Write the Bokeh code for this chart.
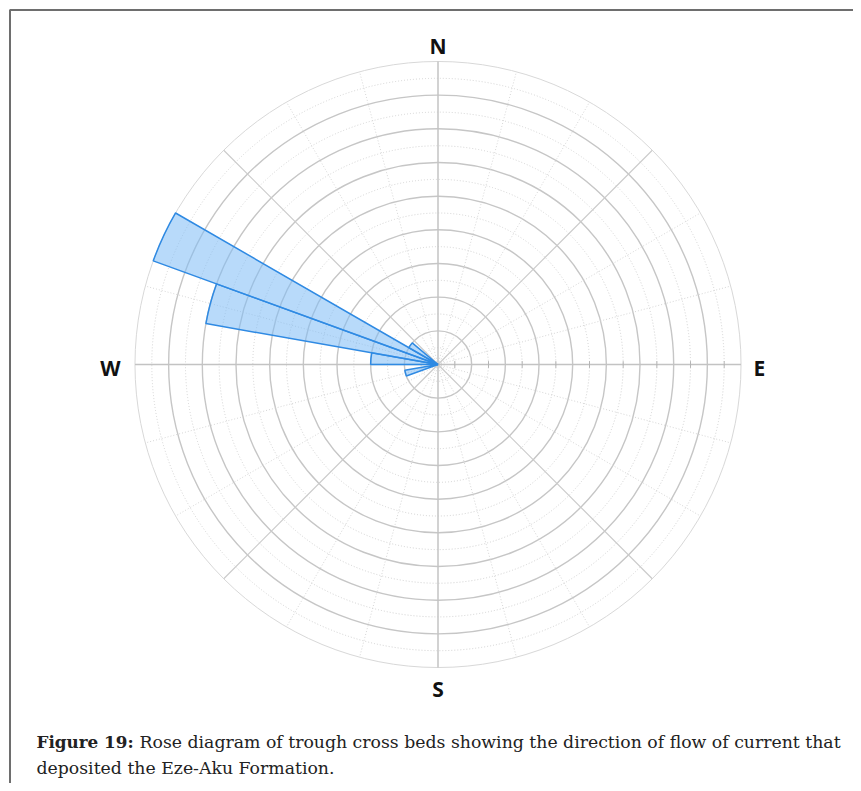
import numpy as np
from bokeh.plotting import figure
from bokeh.models import BoxAnnotation, Label
from bokeh.core.properties import value
from bokeh.embed import file_html
from bokeh.resources import INLINE

# ---- data (azimuth bins, degrees clockwise from North) ----
bin_start = [250, 270, 280, 290, 300]
bin_end = [260, 280, 290, 300, 310]
counts = [1, 2, 7, 9, 1]
ring_max = 9
direction_labels = ["N", "E", "S", "W"]
caption_bold = "Figure 19:"
caption_line1 = "Rose diagram of trough cross beds showing the direction of flow of current that"
caption_line2 = "deposited the Eze-Aku Formation."

# ---- layout ----
W, H = 853, 783
cx, cy = 437.5, 364.0      # canvas pixel of rose centre
s = 33.67                  # pixels per ring unit

p = figure(width=W, height=H, output_backend="svg", toolbar_location=None,
           x_range=(-cx / s, (W - cx) / s), y_range=(-(H - cy) / s, cy / s),
           x_axis_location=None, y_axis_location=None, min_border=0)
p.grid.visible = False
p.outline_line_color = None
p.background_fill_color = "white"
p.border_fill_color = "white"

# ---- grid ----
solid_r = list(range(1, ring_max))
half_r = [k + 0.5 for k in range(ring_max)]
p.circle(x=0, y=0, radius=half_r, fill_color=None, line_color="#d2d2d2",
         line_width=1, line_dash="1 2")
p.circle(x=0, y=0, radius=solid_r, fill_color=None, line_color="#c6c6c6",
         line_width=1.4)
p.circle(x=0, y=0, radius=[ring_max], fill_color=None, line_color="#d8d8d8",
         line_width=1)

az = np.arange(0, 360, 15)
dotted = [a for a in az if a % 45 != 0]
diag = [a for a in az if a % 45 == 0 and a % 90 != 0]
main = [a for a in az if a % 90 == 0]


def seg(angles, **kw):
    th = np.radians(90 - np.array(angles, dtype=float))
    p.segment(x0=0, y0=0, x1=ring_max * np.cos(th), y1=ring_max * np.sin(th), **kw)


seg(dotted, line_color="#d6d6d6", line_width=1, line_dash="1 2")
seg(diag, line_color="#cbcbcb", line_width=1.2)
seg(main, line_color="#c3c3c3", line_width=1.5)

# tick marks along the E axis
tx = np.array(half_r)
p.segment(x0=tx, y0=-0.1, x1=tx, y1=0.1, line_color="#b4b4b4", line_width=1)

# ---- petals ----
p.wedge(x=0, y=0, radius=counts,
        start_angle=[90 - e for e in bin_end], end_angle=[90 - b for b in bin_start],
        start_angle_units="deg", end_angle_units="deg",
        fill_color="#7dbcf5", fill_alpha=0.55,
        line_color="#2f8ae3", line_width=1.5)

# ---- compass letters ----
lab_x = [0, 321.5 / s, 0, -327.5 / s]
lab_y = [318.5 / s, -3 / s, -324 / s, -3 / s]
p.text(x=lab_x, y=lab_y, text=direction_labels, text_font=value("Open Sans"),
       text_font_style="bold", text_font_size="21px", text_color="#111111",
       text_align="center", text_baseline="middle")

# ---- frame border (left and top edges only visible) ----
p.add_layout(BoxAnnotation(left=(9.5 - cx) / s, top=(cy - 9.5) / s,
                           right=(900 - cx) / s, bottom=(cy - 900) / s,
                           fill_color=None, fill_alpha=0, line_color="#6e6e6e",
                           line_width=2, line_alpha=1))

# ---- caption ----
cap_kw = dict(x_units="screen", y_units="screen", text_font="DejaVu Serif",
              text_color="#222222", text_baseline="middle")
p.add_layout(Label(x=36, y=H - 741, text=caption_bold, text_font_style="bold",
                   text_font_size="16.8px", **cap_kw))
p.add_layout(Label(x=139, y=H - 741, text=caption_line1, text_font_size="17.3px", **cap_kw))
p.add_layout(Label(x=36, y=H - 767, text=caption_line2, text_font_size="17.3px", **cap_kw))

open("out.html", "w").write(file_html(p, INLINE))
